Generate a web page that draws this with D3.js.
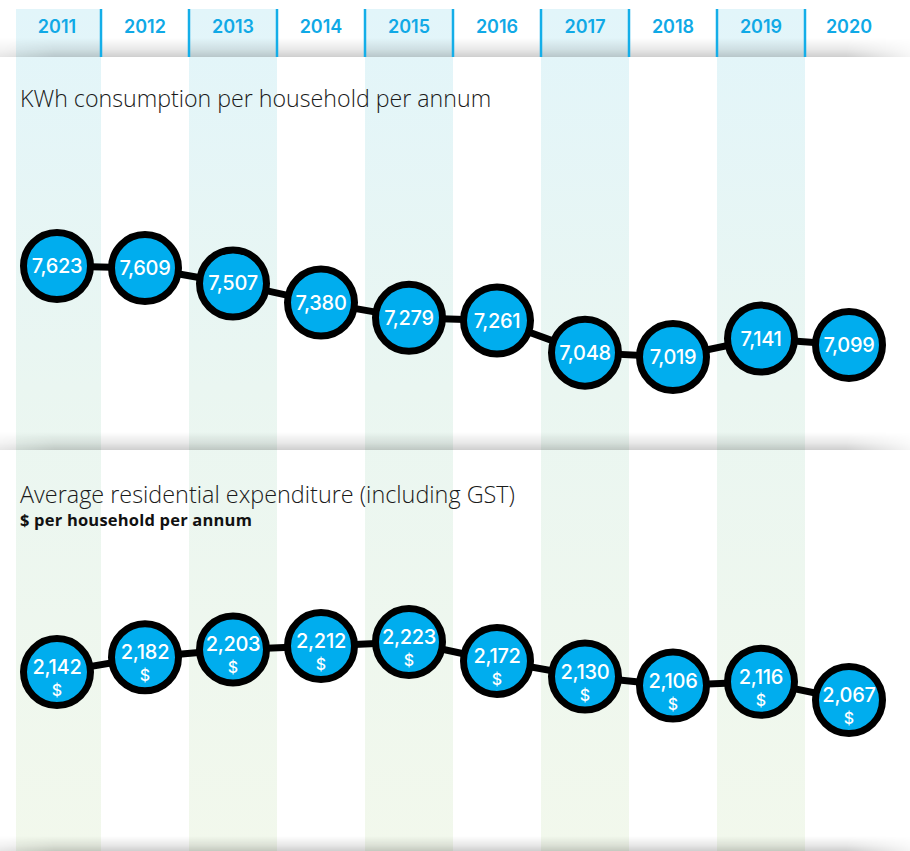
<!DOCTYPE html>
<html>
<head>
<meta charset="utf-8">
<script src="https://cdn.jsdelivr.net/npm/d3@7"></script>
<style>
  html, body { margin: 0; padding: 0; background: #fff; }
  svg { display: block; }
</style>
</head>
<body>
<svg id="chart" width="910" height="851"></svg>
<script>
const years = ["2011","2012","2013","2014","2015","2016","2017","2018","2019","2020"];
const kwhValues = [7623, 7609, 7507, 7380, 7279, 7261, 7048, 7019, 7141, 7099];
const expValues = [2142, 2182, 2203, 2212, 2223, 2172, 2130, 2106, 2116, 2067];
const kwhTitle = "KWh consumption per household per annum";
const expTitle = "Average residential expenditure (including GST)";
const expSubtitle = "$ per household per annum";
const currencyLabel = "$";

const W = 910, H = 851;
const svg = d3.select("#chart");
const defs = svg.append("defs");

const x = d3.scaleBand().domain(years).range([13, 893]).padding(0);
const yTop = d3.scaleLinear().domain([7019, 7623]).range([357, 266]);
const yBot = d3.scaleLinear().domain([2067, 2223]).range([700, 642]);

// column shading gradient (cyan at top, pale green at bottom)
const colGrad = defs.append("linearGradient").attr("id", "colGrad")
  .attr("gradientUnits", "userSpaceOnUse").attr("x1", 0).attr("y1", 9).attr("x2", 0).attr("y2", H);
colGrad.append("stop").attr("offset", "0").attr("stop-color", "#e2f5fa");
colGrad.append("stop").attr("offset", "0.45").attr("stop-color", "#eaf6f1");
colGrad.append("stop").attr("offset", "1").attr("stop-color", "#f2f8ec");

defs.append("clipPath").attr("id", "colClip")
  .append("rect").attr("x", 16).attr("y", 9).attr("width", W - 16).attr("height", H - 9);

svg.append("g").attr("clip-path", "url(#colClip)")
  .selectAll("rect.col")
  .data(years.filter((d, i) => i % 2 === 0))
  .join("rect")
  .attr("class", "col")
  .attr("x", d => x(d))
  .attr("y", 9)
  .attr("width", x.bandwidth())
  .attr("height", H - 9)
  .attr("fill", "url(#colGrad)");

// shadow bands
const shGrad = defs.append("linearGradient").attr("id", "shGrad")
  .attr("x1", 0).attr("y1", 0).attr("x2", 0).attr("y2", 1);
shGrad.append("stop").attr("offset", "0").attr("stop-color", "#000").attr("stop-opacity", 0);
shGrad.append("stop").attr("offset", "0.6").attr("stop-color", "#000").attr("stop-opacity", 0.09);
shGrad.append("stop").attr("offset", "1").attr("stop-color", "#000").attr("stop-opacity", 0.19);

const edgeGrad = defs.append("linearGradient").attr("id", "edgeGrad")
  .attr("x1", 0).attr("y1", 0).attr("x2", 1).attr("y2", 0);
edgeGrad.append("stop").attr("offset", "0").attr("stop-color", "#fff").attr("stop-opacity", 0.5);
edgeGrad.append("stop").attr("offset", "0.06").attr("stop-color", "#fff").attr("stop-opacity", 1);
edgeGrad.append("stop").attr("offset", "0.93").attr("stop-color", "#fff").attr("stop-opacity", 1);
edgeGrad.append("stop").attr("offset", "1").attr("stop-color", "#fff").attr("stop-opacity", 0.2);
const mask = defs.append("mask").attr("id", "edgeMask")
  .attr("maskUnits", "userSpaceOnUse").attr("x", 0).attr("y", 0).attr("width", W).attr("height", H);
mask.append("rect").attr("x", 0).attr("y", 0).attr("width", W).attr("height", H).attr("fill", "url(#edgeGrad)");

const shadows = [[38, 57], [432, 450], [836, 851]];
svg.append("g").attr("mask", "url(#edgeMask)")
  .selectAll("rect.sh").data(shadows).join("rect")
  .attr("x", 0).attr("width", W)
  .attr("y", d => d[0]).attr("height", d => d[1] - d[0])
  .attr("fill", "url(#shGrad)");

// header dividers
const bounds = years.slice(1, 9).map(d => x(d)).concat([x("2019") + x.bandwidth()]);
svg.append("g").selectAll("line.div").data(bounds).join("line")
  .attr("x1", d => d).attr("x2", d => d)
  .attr("y1", 9).attr("y2", 57)
  .attr("stroke", "#14aee8").attr("stroke-width", 2.5);

// year labels
svg.append("g").selectAll("text.yr").data(years).join("text")
  .attr("x", d => x(d) + x.bandwidth() / 2)
  .attr("y", 33)
  .attr("text-anchor", "middle")
  .attr("font-family", "Inter, 'Open Sans', sans-serif")
  .attr("font-weight", 600)
  .attr("font-size", 18)
  .attr("fill", "#10a9e6")
  .text(d => d);

// titles
svg.append("text").attr("x", 20).attr("y", 107)
  .attr("font-family", "'Open Sans', sans-serif").attr("font-weight", 300)
  .attr("font-size", 23.2).attr("fill", "#1a1a1a").text(kwhTitle);
svg.append("text").attr("x", 20).attr("y", 503)
  .attr("font-family", "'Open Sans', sans-serif").attr("font-weight", 300)
  .attr("font-size", 23.4).attr("fill", "#1a1a1a").text(expTitle);
svg.append("text").attr("x", 20).attr("y", 526)
  .attr("font-family", "'Open Sans', sans-serif").attr("font-weight", 700)
  .attr("font-size", 16.5).attr("letter-spacing", 0.2).attr("fill", "#111").text(expSubtitle);

const fmt = d3.format(",");
const cx = d => x(d) + x.bandwidth() / 2;

function drawSeries(values, yScale, withCurrency) {
  const pts = years.map((yr, i) => [cx(yr), yScale(values[i])]);
  const g = svg.append("g");
  g.append("path").attr("d", d3.line()(pts))
    .attr("fill", "none").attr("stroke", "#000").attr("stroke-width", 7);
  const nodes = g.selectAll("g.node").data(years.map((yr, i) => ({ yr, v: values[i] })))
    .join("g").attr("class", "node")
    .attr("transform", d => `translate(${cx(d.yr)},${yScale(d.v)})`);
  nodes.append("circle").attr("r", 33.5)
    .attr("fill", "#00adee").attr("stroke", "#000").attr("stroke-width", 7);
  nodes.append("text")
    .attr("y", withCurrency ? 2 : 7)
    .attr("text-anchor", "middle")
    .attr("font-family", "Inter, 'Open Sans', sans-serif")
    .attr("font-weight", 500)
    .attr("font-size", 20)
    .attr("letter-spacing", -0.3)
    .attr("fill", "#fff")
    .text(d => fmt(d.v));
  if (withCurrency) {
    nodes.append("text")
      .attr("y", 24)
      .attr("text-anchor", "middle")
      .attr("font-family", "Inter, 'Open Sans', sans-serif")
      .attr("font-weight", 500)
      .attr("font-size", 16)
      .attr("fill", "#fff")
      .text(currencyLabel);
  }
}
drawSeries(kwhValues, yTop, false);
drawSeries(expValues, yBot, true);
</script>
</body>
</html>
